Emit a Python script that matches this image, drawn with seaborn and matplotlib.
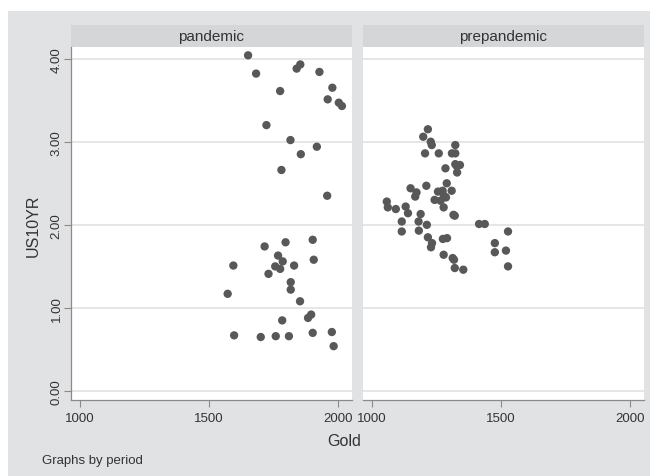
import matplotlib
matplotlib.use("Agg")
import matplotlib.pyplot as plt
import seaborn as sns
import pandas as pd
from matplotlib.patches import Rectangle

# ---- data ----
pandemic_gold = [1652, 1683, 1840, 1854, 1928, 1776, 1978, 1960, 2003, 2015,
                 1723, 1816, 1918, 1856, 1781, 1958,
                 1716, 1797, 1902, 1595, 1768, 1786, 1906, 1757, 1776, 1830,
                 1731, 1817, 1817, 1573, 1853, 1784, 1884, 1896, 1598, 1701,
                 1759, 1810, 1902, 1976, 1983]
pandemic_yield = [4.04, 3.82, 3.88, 3.93, 3.84, 3.61, 3.65, 3.51, 3.47, 3.43,
                  3.20, 3.02, 2.94, 2.85, 2.66, 2.35,
                  1.74, 1.79, 1.82, 1.51, 1.63, 1.56, 1.58, 1.50, 1.47, 1.51,
                  1.41, 1.31, 1.22, 1.17, 1.08, 0.85, 0.88, 0.92, 0.67, 0.65,
                  0.66, 0.66, 0.70, 0.71, 0.54]

prepandemic_gold = [1218, 1200, 1229, 1233, 1324, 1207, 1260, 1311, 1324, 1324,
                    1342, 1329, 1286, 1331, 1291, 1212, 1151, 1174, 1169, 1257,
                    1275, 1310, 1280, 1288, 1244, 1267, 1059, 1063, 1094, 1132,
                    1141, 1279, 1317, 1322, 1190, 1117, 1182, 1214, 1117, 1183,
                    1416, 1438, 1528, 1218, 1276, 1292, 1234, 1477, 1230, 1477,
                    1520, 1528, 1279, 1314, 1319, 1322, 1355]
prepandemic_yield = [3.15, 3.06, 3.00, 2.96, 2.96, 2.86, 2.86, 2.86, 2.86, 2.73,
                     2.72, 2.71, 2.68, 2.63, 2.50, 2.47, 2.44, 2.39, 2.34, 2.40,
                     2.41, 2.41, 2.35, 2.33, 2.30, 2.29, 2.28, 2.21, 2.19, 2.22,
                     2.14, 2.21, 2.12, 2.11, 2.13, 2.04, 2.04, 2.00, 1.92, 1.93,
                     2.01, 2.01, 1.92, 1.85, 1.83, 1.84, 1.78, 1.78, 1.73, 1.67,
                     1.69, 1.50, 1.64, 1.60, 1.58, 1.48, 1.46]

periods = ["pandemic", "prepandemic"]
x_ticks = [1000, 1500, 2000]
y_ticks = [0, 1, 2, 3, 4]
y_ticklabels = ["0.00", "1.00", "2.00", "3.00", "4.00"]

df = pd.DataFrame({
    "Gold": pandemic_gold + prepandemic_gold,
    "US10YR": pandemic_yield + prepandemic_yield,
    "period": ["pandemic"] * len(pandemic_gold) + ["prepandemic"] * len(prepandemic_gold),
})

BG = "#e1e2e4"
STRIP = "#d5d6d8"
DOT = "#585858"
GRID = "#e6e6e6"
AXC = "#8a8a8a"
TXT = "#333333"

sns.set_style("white")
plt.rcParams["font.family"] = ["Liberation Sans", "DejaVu Sans"]

g = sns.FacetGrid(df, col="period", col_order=periods, sharex=True, sharey=True,
                  height=4, aspect=0.8, despine=False)
g.map_dataframe(sns.scatterplot, x="Gold", y="US10YR", color=DOT, s=36,
                edgecolor="none", linewidth=0)

fig = g.figure
fig.set_size_inches(6.5, 4.77)
fig.set_dpi(100)
fig.patch.set_facecolor("white")
W, H = 650.0, 477.0
fig.patches.append(Rectangle((8 / W, 0), 1 - 8 / W, (H - 12) / H,
                             transform=fig.transFigure, facecolor=BG,
                             edgecolor="none", zorder=-10))

lefts = [71, 363]
for i, ax in enumerate(g.axes.flat):
    ax.set_position([lefts[i] / W, 1 - 401 / H, 281 / W, 353 / H])
    ax.set_facecolor("white")
    ax.set_xlim(967, 2054)
    ax.set_ylim(-0.108, 4.14)
    ax.set_title("")
    ax.set_xlabel("")
    ax.set_ylabel("")
    ax.set_yticks(y_ticks)
    ax.set_xticks(x_ticks)
    ax.set_xticklabels([str(t) for t in x_ticks])
    ax.grid(axis="y", color=GRID, linewidth=1.4)
    ax.grid(axis="x", visible=False)
    ax.set_axisbelow(True)
    for s in ["top", "right"]:
        ax.spines[s].set_visible(False)
    ax.spines["bottom"].set_color(AXC)
    ax.spines["bottom"].set_linewidth(0.9)
    ax.tick_params(axis="x", length=5, width=0.8, color=AXC, pad=4,
                   labelsize=9.5, labelcolor=TXT, bottom=True)
    if i == 0:
        ax.spines["left"].set_color(AXC)
        ax.spines["left"].set_linewidth(0.9)
        ax.set_yticklabels(y_ticklabels, rotation=90, va="center")
        ax.tick_params(axis="y", length=5, width=0.8, color=AXC, pad=1,
                       labelsize=9.5, labelcolor=TXT, left=True)
    else:
        ax.spines["left"].set_visible(False)
        ax.tick_params(axis="y", left=False, labelleft=False)
    # strip title
    ax.add_patch(Rectangle((0, 1), 1, 22 / 353, transform=ax.transAxes,
                           facecolor=STRIP, edgecolor="none", clip_on=False))
    ax.text(0.5, 1 + 11 / 353, periods[i], transform=ax.transAxes,
            ha="center", va="center", fontsize=11, color=TXT)

fig.text(344 / W, 1 - 442 / H, "Gold", ha="center", va="center",
         fontsize=11.5, color=TXT)
fig.text(33 / W, 1 - 226 / H, "US10YR", ha="center", va="center",
         rotation=90, fontsize=11.5, color=TXT)
fig.text(42 / W, 1 - 461 / H, "Graphs by period", ha="left", va="center",
         fontsize=9.5, color=TXT)

fig.savefig("out.png", dpi=100, facecolor="white")
